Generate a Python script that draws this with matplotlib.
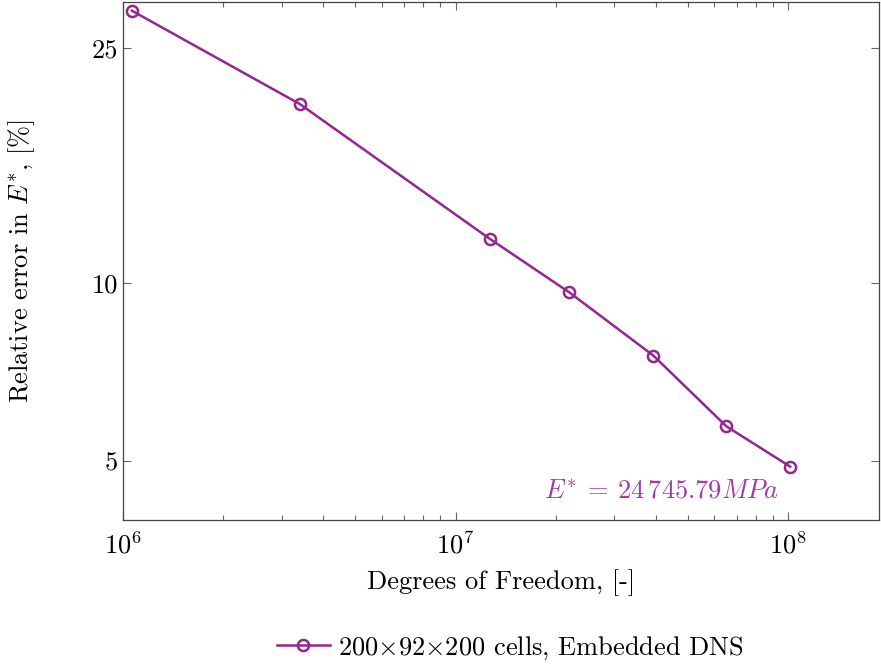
import numpy as np
import matplotlib
matplotlib.use("Agg")
import matplotlib.pyplot as plt
from matplotlib.ticker import FixedLocator, NullLocator, NullFormatter

plt.rcParams['font.family'] = 'serif'
plt.rcParams['font.serif'] = ['cmr10', 'DejaVu Serif']
plt.rcParams['mathtext.fontset'] = 'cm'
plt.rcParams['axes.formatter.use_mathtext'] = True

# ----- data -----
dofs = [1.064e6, 3.40e6, 1.265e7, 2.20e7, 3.93e7, 6.52e7, 1.014e8]
rel_error = [28.9, 20.1, 11.9, 9.65, 7.55, 5.73, 4.90]
y_ticks = [5, 10, 25]
series_label = r"200$\times$92$\times$200 cells, Embedded DNS"
note = r"$E^{*} \:=\: 24\,745.79 MPa$"

purple = '#92278f'

fig = plt.figure(figsize=(8.81, 6.64), dpi=100)
ax = fig.add_axes([123 / 881, 1 - 520 / 664, 756 / 881, 518 / 664])

ax.plot(dofs, rel_error, color=purple, linewidth=1.8, marker='o', markersize=8,
        markerfacecolor='none', markeredgewidth=1.8, label=series_label)

ax.set_xscale('log')
ax.set_yscale('log')
ax.set_xlim(1e6, 1.875e8)
ax.set_ylim(3.98, 29.9)

ax.yaxis.set_major_locator(FixedLocator(y_ticks))
ax.yaxis.set_minor_locator(NullLocator())
ax.yaxis.set_minor_formatter(NullFormatter())
ax.set_yticklabels([str(t) for t in y_ticks])

ax.tick_params(which='both', direction='in', top=True, right=True,
               labelsize=19, color='#666666')
ax.tick_params(which='major', length=6, width=0.8)
ax.tick_params(which='minor', length=3.5, width=0.8)
ax.tick_params(axis='x', pad=8)
for s in ax.spines.values():
    s.set_color('#444444')
    s.set_linewidth(0.9)

ax.set_xlabel("Degrees of Freedom, [-]", fontsize=19, labelpad=8)
ax.set_ylabel(r"Relative error in $E^{*}$, [%]", fontsize=19)
ax.yaxis.set_label_coords(-0.114, 0.5)

ax.text(9.4e7, 4.46, note, color='#a13ca0', fontsize=19, ha='right', va='center')

fig.legend(loc='center', bbox_to_anchor=(510 / 881, 1 - 648 / 664), frameon=False,
           fontsize=19, handlelength=2.0, handletextpad=0.3)

fig.savefig('out.png', dpi=100)
